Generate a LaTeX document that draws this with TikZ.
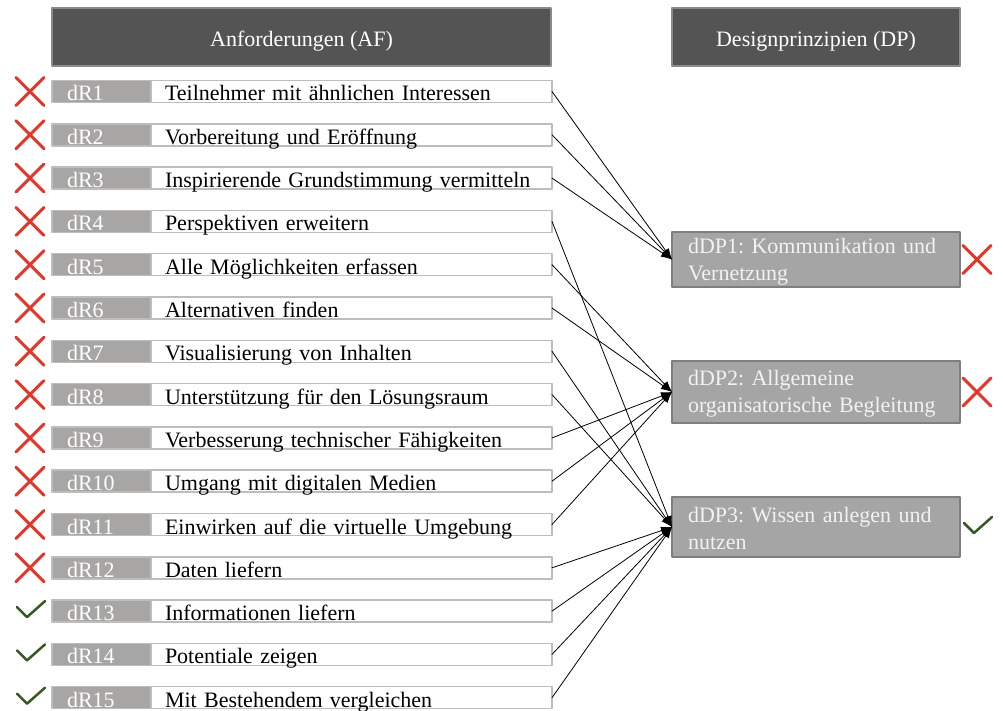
\documentclass[tikz,border=0pt]{standalone}
\usepackage{fontspec}
\setmainfont{Liberation Serif}
\usetikzlibrary{arrows.meta}
\definecolor{hdfill}{HTML}{545454}
\definecolor{hdline}{HTML}{8A8A8A}
\definecolor{keyfill}{HTML}{A8A5A5}
\definecolor{rowline}{HTML}{BDBDBD}
\definecolor{dpfill}{HTML}{A5A5A5}
\definecolor{dpline}{HTML}{7F7F7F}
\definecolor{xred}{HTML}{E2372B}
\definecolor{okgreen}{HTML}{385723}
\begin{document}
\begin{tikzpicture}[x=1pt, y=-1pt, line join=round, line cap=round, >={Latex[length=11pt,width=8pt]},
		font=\fontsize{22}{27}\selectfont\frenchspacing,
		hd/.style={draw=hdline, line width=1.5pt, fill=hdfill, text=white, anchor=north west, minimum height=58pt, inner sep=0pt, outer sep=0pt, text height=20pt, text depth=1pt},
		rowkey/.style={draw=rowline, line width=1.5pt, fill=keyfill, text=white, anchor=west, minimum height=22pt, text width=69pt, inner xsep=15pt, inner ysep=0pt, outer sep=0pt, align=left, text height=20pt, text depth=1pt},
		rowtxt/.style={draw=rowline, line width=1.5pt, fill=white, anchor=west, minimum height=22pt, text width=373pt, inner xsep=14pt, inner ysep=0pt, outer sep=0pt, align=left, text height=20pt, text depth=1pt},
		dpbox/.style={draw=dpline, line width=1.5pt, fill=dpfill, text=white!95!black, anchor=north west, minimum width=288pt, text width=256pt, inner xsep=16pt, inner ysep=0pt, outer sep=0pt, align=left},
		conn/.style={line width=0.8pt, black},
		xmark/.pic={\draw[xred, line width=3pt] (-14,-14) -- (14,14) (-14,14) -- (14,-14);},
		vmark/.pic={\draw[okgreen, line width=2.5pt] (-13,-4) -- (-3,6) -- (15,-10);}]
	\useasboundingbox (0,0) rectangle (1003,711);
	\def\pitch{43.3} \def\ytop{91.5}
	% Kopfzeilen
	\node[hd, minimum width=499pt] (af) at (52,8) {Anforderungen (AF)};
	\node[hd, minimum width=288pt] (dp) at (672,8) {Designprinzipien (DP)};
	% Designprinzipien
	\node[dpbox, minimum height=55pt] (dp1) at (672,232) {\rule{0pt}{19pt}dDP1: Kommunikation und\\Vernetzung};
	\node[dpbox, minimum height=62pt] (dp2) at (672,361) {\rule{0pt}{19pt}dDP2: Allgemeine\\organisatorische Begleitung};
	\node[dpbox, minimum height=60pt] (dp3) at (672,497) {\rule{0pt}{19pt}dDP3: Wissen anlegen und\\nutzen};
	\pic at ([xshift=17pt]dp1.east) {xmark};
	\pic at ([xshift=17pt]dp2.east) {xmark};
	\pic at ([xshift=17pt]dp3.east) {vmark};
	% Anforderungen
	\foreach \i/\txt/\d/\mk in {1/Teilnehmer mit ähnlichen Interessen/1/xmark,
		2/Vorbereitung und Eröffnung/1/xmark,
		3/Inspirierende Grundstimmung vermitteln/1/xmark,
		4/Perspektiven erweitern/3/xmark,
		5/Alle Möglichkeiten erfassen/2/xmark,
		6/Alternativen finden/2/xmark,
		7/Visualisierung von Inhalten/3/xmark,
		8/Unterstützung für den Lösungsraum/3/xmark,
		9/Verbesserung technischer Fähigkeiten/2/xmark,
		10/Umgang mit digitalen Medien/2/xmark,
		11/Einwirken auf die virtuelle Umgebung/2/xmark,
		12/Daten liefern/3/xmark,
		13/Informationen liefern/3/vmark,
		14/Potentiale zeigen/3/vmark,
		15/Mit Bestehendem vergleichen/3/vmark}{
		\pgfmathsetmacro\y{\ytop+(\i-1)*\pitch}
		\node[rowkey] (k\i) at (52,\y) {dR\i};
		\node[rowtxt] (r\i) at (k\i.east) {\txt};
		\pic at (30,\y) {\mk};
		\draw[conn,->] (r\i.east) -- (dp\d.west);
	}
\end{tikzpicture}
\end{document}
